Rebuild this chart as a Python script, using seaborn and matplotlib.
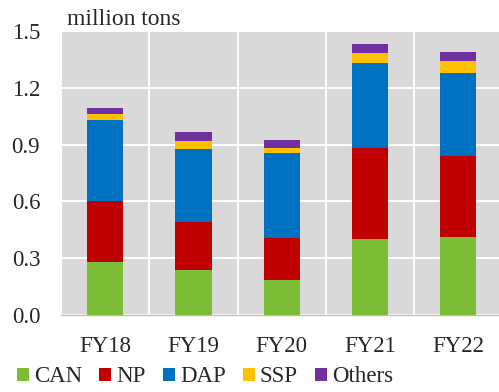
import matplotlib
matplotlib.use("Agg")
import matplotlib.pyplot as plt
from matplotlib.patches import Patch
import numpy as np
import pandas as pd
import seaborn as sns

# Fertilizer volumes by product, million tons
years = ["FY18", "FY19", "FY20", "FY21", "FY22"]
can = [0.28, 0.24, 0.185, 0.40, 0.41]
np_ = [0.32, 0.25, 0.223, 0.48, 0.43]
dap = [0.43, 0.385, 0.449, 0.45, 0.44]
ssp = [0.03, 0.045, 0.023, 0.053, 0.064]
others = [0.035, 0.045, 0.043, 0.046, 0.046]

series_names = ["CAN", "NP", "DAP", "SSP", "Others"]
series_values = [can, np_, dap, ssp, others]
colors = ["#7CBD36", "#C00000", "#0070C0", "#FFC000", "#7030A0"]

sns.set_style("darkgrid", {
    "axes.facecolor": "#D9D9D9",
    "grid.color": "white",
    "axes.edgecolor": "#BFBFBF",
})
plt.rcParams["font.family"] = ["Liberation Serif", "DejaVu Serif"]
plt.rcParams["font.size"] = 16.5

df = pd.DataFrame({"year": years})
for name, vals in zip(series_names, series_values):
    df[name] = vals
cum = df[series_names].cumsum(axis=1)

fig = plt.figure(figsize=(4.99, 3.92), dpi=100)
ax = fig.add_axes([61 / 499, 1 - 315 / 392, 441.5 / 499, 284 / 392])

# Stack by overdrawing cumulative totals, tallest first
for name, color in reversed(list(zip(series_names, colors))):
    sns.barplot(data=cum.assign(year=years), x="year", y=name, color=color,
                width=0.41, saturation=1, ax=ax, linewidth=0, zorder=3)

ax.set_ylim(0, 1.5)
ax.set_xlim(-0.5, 4.5)
ax.set_yticks([0.0, 0.3, 0.6, 0.9, 1.2, 1.5])
ax.set_yticklabels(["0.0", "0.3", "0.6", "0.9", "1.2", "1.5"])
ax.set_xticks(range(len(years)))
ax.set_xticklabels(years)
ax.set_xticks(np.arange(-0.5, 5.0, 1.0), minor=True)
ax.set_xlabel("")
ax.set_ylabel("")

ax.grid(False)
ax.grid(True, axis="y", which="major", color="white", linewidth=1.4, zorder=1)
ax.grid(True, axis="x", which="minor", color="white", linewidth=1.4, zorder=1)
ax.set_axisbelow(True)
ax.tick_params(axis="both", which="both", length=0)
ax.tick_params(axis="x", pad=15)
ax.tick_params(axis="y", pad=15)
for s in ["top", "right", "left"]:
    ax.spines[s].set_visible(False)
ax.spines["bottom"].set_visible(True)
ax.spines["bottom"].set_color("#BFBFBF")
ax.spines["bottom"].set_linewidth(1.0)

fig.text(67 / 499, 1 - 25 / 392, "million tons", ha="left", va="baseline",
         fontsize=17)

handles = [Patch(facecolor=c, edgecolor="none", label=n)
           for n, c in zip(series_names, colors)]
fig.legend(handles=handles, loc="center left", bbox_to_anchor=(17 / 499, 1 - 377 / 392),
           ncol=5, frameon=False, handlelength=0.52, handleheight=0.52,
           handletextpad=0.22, columnspacing=0.75, borderpad=0, borderaxespad=0)

fig.savefig("out.png", dpi=100)
